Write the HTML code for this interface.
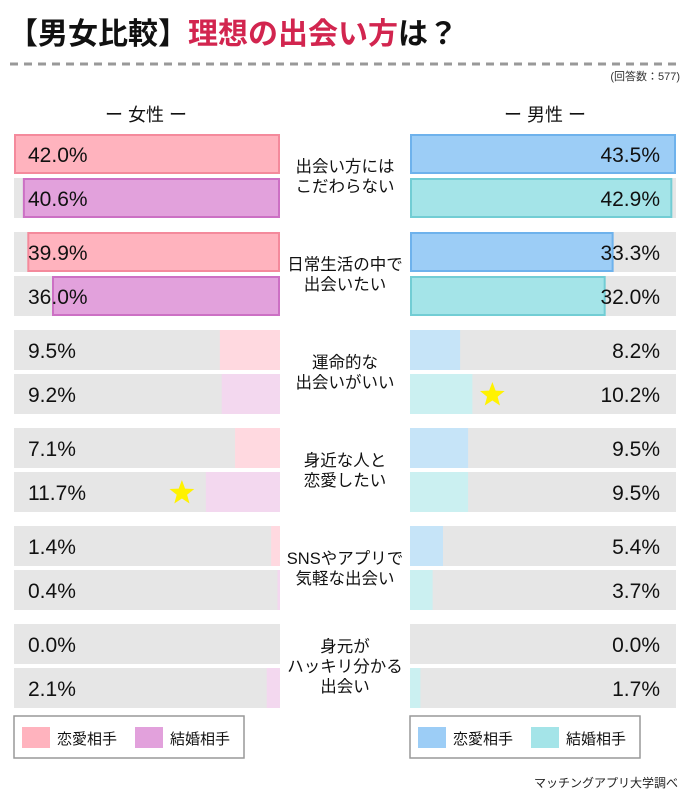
<!DOCTYPE html>
<html><head><meta charset="utf-8"><style>
body{margin:0;background:#fff}
svg text{font-family:"Liberation Sans","Noto Sans CJK JP",sans-serif}
</style></head><body>
<svg id="chart" width="690" height="799" viewBox="0 0 690 799" xmlns="http://www.w3.org/2000/svg">
<text x="8" y="44" font-size="30" font-weight="bold"><tspan fill="#111">【男女比較】</tspan><tspan fill="#d2254f">理想の出会い方</tspan><tspan fill="#111">は？</tspan></text>
<line x1="10" y1="64" x2="682" y2="64" stroke="#999" stroke-width="3" stroke-dasharray="8,6"/>
<text x="680" y="80" font-size="11" text-anchor="end" fill="#333">(回答数：577)</text>
<text x="146" y="121" font-size="18" text-anchor="middle" fill="#111">ー 女性 ー</text>
<text x="545" y="121" font-size="18" text-anchor="middle" fill="#111">ー 男性 ー</text>
<g id="bars"></g>
<g>
<rect x="14" y="716" width="230" height="42" fill="#fff" stroke="#999" stroke-width="1.5"/>
<rect x="22" y="727" width="28" height="21" fill="#ffb3be"/>
<text x="57" y="744" font-size="15" fill="#111">恋愛相手</text>
<rect x="135" y="727" width="28" height="21" fill="#e2a1dc"/>
<text x="170" y="744" font-size="15" fill="#111">結婚相手</text>
</g>
<g>
<rect x="410" y="716" width="230" height="42" fill="#fff" stroke="#999" stroke-width="1.5"/>
<rect x="418" y="727" width="28" height="21" fill="#9ccdf6"/>
<text x="453" y="744" font-size="15" fill="#111">恋愛相手</text>
<rect x="531" y="727" width="28" height="21" fill="#a4e4e8"/>
<text x="566" y="744" font-size="15" fill="#111">結婚相手</text>
</g>
<text x="678" y="787" font-size="12" text-anchor="end" fill="#222">マッチングアプリ大学調べ</text>
</svg>
<script>
const categories = [["出会い方には","こだわらない"],["日常生活の中で","出会いたい"],["運命的な","出会いがいい"],["身近な人と","恋愛したい"],["SNSやアプリで","気軽な出会い"],["身元が","ハッキリ分かる","出会い"]];
const femaleLove = [42.0,39.9,9.5,7.1,1.4,0.0];
const femaleMarriage = [40.6,36.0,9.2,11.7,0.4,2.1];
const maleLove = [43.5,33.3,8.2,9.5,5.4,0.0];
const maleMarriage = [42.9,32.0,10.2,9.5,3.7,1.7];
const femaleStars = [3];
const maleStars = [2];

const NS="http://www.w3.org/2000/svg";
const g=document.getElementById('bars');
function mk(tag,attrs,parent){const e=document.createElementNS(NS,tag);for(const k in attrs)e.setAttribute(k,attrs[k]);(parent||g).appendChild(e);return e;}
const LX0=14,LX1=280,RX0=410,RX1=676,W=266;
const fMax=Math.max(...femaleLove,...femaleMarriage);
const mMax=Math.max(...maleLove,...maleMarriage);
const fScale=v=>v/fMax*W, mScale=v=>v/mMax*W;
function star(cx,cy){let p=[];for(let i=0;i<10;i++){const r=i%2?5.5:13;const a=-Math.PI/2+i*Math.PI/5;p.push((cx+r*Math.cos(a)).toFixed(1)+','+(cy+r*Math.sin(a)).toFixed(1));}
const s=mk('polygon',{points:p.join(' '),fill:'#fff200'});

}
categories.forEach((cat,i)=>{
  const top=134+i*98;
  const hi=i<2;
  const rows=[
    {v:femaleLove[i],side:'f',y:top,fill:hi?'#ffb3be':'#ffd9e0',stroke:'#f48a9c',name:'female-love-bar'},
    {v:femaleMarriage[i],side:'f',y:top+44,fill:hi?'#e2a1dc':'#f3d8ef',stroke:'#cc70c4',name:'female-marriage-bar'},
    {v:maleLove[i],side:'m',y:top,fill:hi?'#9ccdf6':'#c6e4f8',stroke:'#6eb2ec',name:'male-love-bar'},
    {v:maleMarriage[i],side:'m',y:top+44,fill:hi?'#a4e4e8':'#cbf0f1',stroke:'#72cdd4',name:'male-marriage-bar'}];
  rows.forEach((r,k)=>{
    const x0=r.side==='f'?LX0:RX0;
    const bg=mk('rect',{x:x0,y:r.y,width:W,height:40,fill:'#e6e6e6'});
    
    
    const w=r.side==='f'?fScale(r.v):mScale(r.v);
    const bx=r.side==='f'?LX1-w:RX0;
    const b=mk('rect',{x:hi?bx+1:bx,y:hi?r.y+1:r.y,width:Math.max(0,hi?w-2:w),height:hi?38:40,fill:r.fill});
    if(hi){b.setAttribute('stroke',r.stroke);b.setAttribute('stroke-width','2');}
    
    
    const t=mk('text',{x:r.side==='f'?28:660,y:r.y+28,'font-size':21,fill:'#111','text-anchor':r.side==='f'?'start':'end'});
    t.textContent=r.v.toFixed(1)+'%';
    
    
    if(k===1&&femaleStars.includes(i))star(bx-24,r.y+21);
    if(k===3&&maleStars.includes(i))star(bx+w+20,r.y+21);
  });
  const n=cat.length, lh=20;
  const cy=top+42-(n-1)*lh/2+6;
  const lt=mk('text',{x:345,'font-size':16.5,fill:'#111','text-anchor':'middle'});
  
  
  cat.forEach((line,j)=>{const ts=mk('tspan',{x:345,y:cy+j*lh},lt);ts.textContent=line;});
});
</script>
</body></html>
